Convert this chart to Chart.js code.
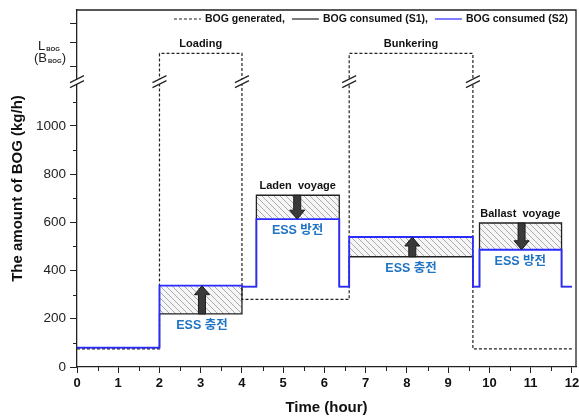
<!DOCTYPE html>
<html lang="ko">
<head>
<meta charset="UTF-8">
<title>BOG generated / consumed</title>
<script src="https://cdn.jsdelivr.net/npm/chart.js"></script>
<style>
  html, body { margin: 0; padding: 0; background: #fff; }
</style>
</head>
<body>
<canvas id="myChart" width="579" height="419"></canvas>
<script>
// each level holds from its time until the next time (hours, kg/h)
var genTimes  = [0, 2, 4, 6.6, 9.6, 12];
var genLevels = [75, 1300, 280, 1300, 75, 75];

var useTimes = [0, 2, 4, 4.35, 6.36, 6.6, 9.6, 9.76, 11.75, 12];
var s1Levels = [80, 220, 333, 712, 333, 457, 333, 597, 333, 333];
var s2Levels = [80, 337, 333, 613, 333, 539, 333, 486, 333, 333];

var xMajor = [0, 1, 2, 3, 4, 5, 6, 7, 8, 9, 10, 11, 12];
var xMinor = [0.5, 1.5, 2.5, 3.5, 4.5, 5.5, 6.5, 7.5, 8.5, 9.5, 10.5, 11.5];
var yMajor = [0, 200, 400, 600, 800, 1000];
var yMinor = [100, 300, 500, 700, 900, 1100];
var yUpper = [1245, 1344, 1423];   // ticks above the axis break
var yBreak = 1183;

var phaseNames = ['Loading', 'Laden  voyage', 'Bunkering', 'Ballast  voyage'];
var phaseX = [3, 5.35, 8.1, 10.75];
var phaseY = [1340, 751, 1340, 635];

var essNames = ['ESS 충전', 'ESS 방전', 'ESS 충전', 'ESS 방전'];
var essX = [3.03, 5.35, 8.1, 10.75];
var essY = [172, 566, 408, 436];

var arrowX    = [3.03, 5.34, 8.13, 10.78];
var arrowFrom = [220, 712, 457, 597];
var arrowTo   = [337, 613, 539, 486];

var FONT = "'Liberation Sans', Arial, 'Noto Sans CJK KR', sans-serif";
var KFONT = "'Liberation Sans', 'Noto Sans CJK KR', sans-serif";

function toPoints(times, levels) {
  return times.map(function (t, i) { return { x: t, y: levels[i] }; });
}

function hatchPattern() {
  var c = document.createElement('canvas');
  c.width = 6; c.height = 6;
  var g = c.getContext('2d');
  g.fillStyle = '#f6f6f6';
  g.fillRect(0, 0, 6, 6);
  g.strokeStyle = '#ababab';
  g.lineWidth = 1;
  g.beginPath();
  g.moveTo(0, 0); g.lineTo(6, 6);
  g.moveTo(-1, 5); g.lineTo(1, 7);
  g.moveTo(5, -1); g.lineTo(7, 1);
  g.stroke();
  return g.createPattern(c, 'repeat');
}

function drawArrow(ctx, px, p0, p1) {
  var dir = p1 > p0 ? 1 : -1;
  var base = p1 - dir * 9;
  ctx.beginPath();
  ctx.moveTo(px - 3.5, p0);
  ctx.lineTo(px - 3.5, base);
  ctx.lineTo(px - 7.5, base);
  ctx.lineTo(px, p1);
  ctx.lineTo(px + 7.5, base);
  ctx.lineTo(px + 3.5, base);
  ctx.lineTo(px + 3.5, p0);
  ctx.closePath();
  ctx.fill();
  ctx.stroke();
}

function breakMark(ctx, px, py) {
  ctx.fillStyle = '#fff';
  ctx.fillRect(px - 3, py - 2.5, 6, 5);
  ctx.strokeStyle = '#222';
  ctx.lineWidth = 1.2;
  ctx.beginPath();
  ctx.moveTo(px - 7, py + 1); ctx.lineTo(px + 7, py - 6);
  ctx.moveTo(px - 7, py + 6); ctx.lineTo(px + 7, py - 1);
  ctx.stroke();
}

// one-line legend in the top right corner of the plot
function drawLegend(chart) {
  var ctx = chart.ctx, a = chart.chartArea;
  var sets = chart.data.datasets;
  var lineLen = 27, gapText = 4, gapItem = 7;
  ctx.font = 'bold 10.5px ' + FONT;
  var widths = sets.map(function (d) { return lineLen + gapText + ctx.measureText(d.label).width; });
  var total = widths.reduce(function (s, w) { return s + w; }, 0) + gapItem * (sets.length - 1);
  var cx = a.right - 8 - total;
  var cy = a.top + 9;
  ctx.textAlign = 'left';
  ctx.textBaseline = 'middle';
  sets.forEach(function (d, i) {
    ctx.strokeStyle = d.borderColor;
    ctx.lineWidth = 1.2;
    ctx.setLineDash(d.borderDash || []);
    ctx.beginPath();
    ctx.moveTo(cx, cy); ctx.lineTo(cx + lineLen, cy);
    ctx.stroke();
    ctx.setLineDash([]);
    ctx.fillStyle = '#111';
    ctx.fillText(d.label, cx + lineLen + gapText, cy);
    cx += widths[i] + gapItem;
  });
}

var decor = {
  id: 'decor',
  afterDatasetsDraw: function (chart) {
    var ctx = chart.ctx, x = chart.scales.x, y = chart.scales.y;
    ctx.save();
    ctx.fillStyle = '#3a3a3a';
    ctx.strokeStyle = '#1e1e1e';
    ctx.lineWidth = 1;
    arrowX.forEach(function (v, i) {
      drawArrow(ctx, x.getPixelForValue(v), y.getPixelForValue(arrowFrom[i]), y.getPixelForValue(arrowTo[i]));
    });
    ctx.textAlign = 'center';
    ctx.textBaseline = 'middle';
    ctx.fillStyle = '#111';
    ctx.font = 'bold 11px ' + FONT;
    phaseNames.forEach(function (t, i) {
      ctx.fillText(t, x.getPixelForValue(phaseX[i]), y.getPixelForValue(phaseY[i]));
    });
    ctx.fillStyle = '#1f74c4';
    ctx.font = 'bold 12.5px ' + KFONT;
    essNames.forEach(function (t, i) {
      ctx.fillText(t, x.getPixelForValue(essX[i]), y.getPixelForValue(essY[i]));
    });
    ctx.restore();
  },
  afterDraw: function (chart) {
    var ctx = chart.ctx, a = chart.chartArea, x = chart.scales.x, y = chart.scales.y;
    ctx.save();
    // frame top + right
    ctx.strokeStyle = '#222';
    ctx.lineWidth = 1.3;
    ctx.beginPath();
    ctx.moveTo(a.left, a.top); ctx.lineTo(a.right, a.top); ctx.lineTo(a.right, a.bottom);
    ctx.stroke();
    // minor ticks
    ctx.lineWidth = 1;
    ctx.beginPath();
    yMinor.forEach(function (v) {
      var py = Math.round(y.getPixelForValue(v)) + 0.5;
      ctx.moveTo(a.left - 4, py); ctx.lineTo(a.left, py);
    });
    xMinor.forEach(function (v) {
      var px = Math.round(x.getPixelForValue(v)) + 0.5;
      ctx.moveTo(px, a.bottom); ctx.lineTo(px, a.bottom + 4);
    });
    ctx.stroke();
    // axis breaks
    var by = y.getPixelForValue(yBreak);
    breakMark(ctx, a.left, by);
    genTimes.slice(1, 5).forEach(function (v) {
      breakMark(ctx, x.getPixelForValue(v), by);
    });
    // L_BOG / (B_BOG) label
    var ty = y.getPixelForValue(yUpper[1]);
    var lx = a.left - 39;
    ctx.fillStyle = '#222';
    ctx.textBaseline = 'alphabetic';
    ctx.textAlign = 'left';
    ctx.font = '13px ' + FONT;
    ctx.fillText('L', lx, ty + 7);
    var w1 = ctx.measureText('L').width;
    ctx.fillText('(B', lx - 4, ty + 19);
    var w2 = ctx.measureText('(B').width;
    ctx.font = 'bold 6px ' + FONT;
    ctx.fillText('BOG', lx + w1 + 1, ty + 8);
    ctx.fillText('BOG', lx - 4 + w2 + 1, ty + 20);
    var w3 = ctx.measureText('BOG').width;
    ctx.font = '13px ' + FONT;
    ctx.fillText(')', lx - 4 + w2 + 1 + w3, ty + 19);
    drawLegend(chart);
    ctx.restore();
  }
};

var ctx = document.getElementById('myChart').getContext('2d');
var hatch = hatchPattern();

var myChart = new Chart(ctx, {
  type: 'line',
  data: {
    datasets: [{
      label: 'BOG generated,',
      data: toPoints(genTimes, genLevels),
      borderColor: '#222',
      borderWidth: 1.2,
      borderDash: [3, 2],
      stepped: true,
      pointRadius: 0,
      fill: false,
      order: 2
    }, {
      label: 'BOG consumed (S1),',
      data: toPoints(useTimes, s1Levels),
      borderColor: '#222',
      borderWidth: 1.3,
      stepped: true,
      pointRadius: 0,
      fill: false,
      order: 1
    }, {
      label: 'BOG consumed (S2)',
      data: toPoints(useTimes, s2Levels),
      borderColor: '#2b2bff',
      backgroundColor: hatch,
      borderWidth: 1.8,
      stepped: true,
      pointRadius: 0,
      fill: { target: 1 },
      order: 0
    }]
  },
  options: {
    responsive: false,
    animation: false,
    layout: { padding: { left: 5, top: 10, right: 3, bottom: 0 } },
    plugins: {
      filler: { drawTime: 'beforeDatasetsDraw' },
      tooltip: { enabled: false },
      legend: { display: false }
    },
    scales: {
      x: {
        type: 'linear',
        min: 0,
        max: 12.1,
        afterBuildTicks: function (s) { s.ticks = xMajor.map(function (v) { return { value: v }; }); },
        afterFit: function (s) { s.height = 52; s.paddingLeft = 0; s.paddingRight = 0; },
        ticks: {
          maxRotation: 0,
          padding: 3,
          color: '#111',
          font: { family: FONT, size: 13, weight: 'bold' },
          callback: function (v) { return v; }
        },
        grid: { drawOnChartArea: false, tickLength: 6, tickColor: '#222', tickWidth: 1 },
        border: { color: '#222', width: 1.3 },
        title: {
          display: true,
          text: 'Time (hour)',
          color: '#111',
          padding: { top: 4, bottom: 2 },
          font: { family: FONT, size: 15, weight: 'bold' }
        }
      },
      y: {
        type: 'linear',
        min: 0,
        max: 1480,
        afterBuildTicks: function (s) {
          s.ticks = yMajor.concat(yUpper).map(function (v) { return { value: v }; });
        },
        afterFit: function (s) { s.width = 72; s.paddingTop = 0; s.paddingBottom = 0; },
        ticks: {
          padding: 4,
          color: '#222',
          font: { family: FONT, size: 13.5 },
          callback: function (v) { return yMajor.indexOf(v) >= 0 ? v : ''; }
        },
        grid: { drawOnChartArea: false, tickLength: 7, tickColor: '#222', tickWidth: 1 },
        border: { color: '#222', width: 1.3 },
        title: {
          display: true,
          text: 'The amount of BOG (kg/h)',
          color: '#111',
          font: { family: FONT, size: 15, weight: 'bold' }
        }
      }
    }
  },
  plugins: [decor]
});
</script>
</body>
</html>
